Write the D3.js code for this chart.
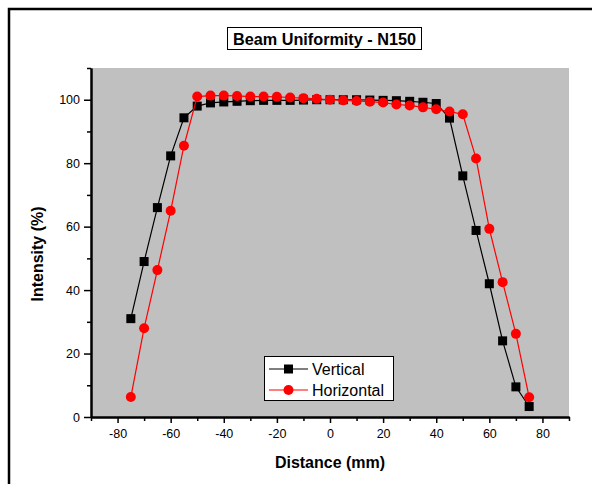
<!DOCTYPE html>
<html><head><meta charset="utf-8">
<script src="https://cdn.jsdelivr.net/npm/d3@7"></script>
<style>
html,body{margin:0;padding:0;background:#fff;}
svg{display:block;font-family:Arial,"Liberation Sans",sans-serif;}
</style></head>
<body>
<svg id="chart" width="592" height="484"></svg>
<script>
const distances = [-75,-70,-65,-60,-55,-50,-45,-40,-35,-30,-25,-20,-15,-10,-5,0,5,10,15,20,25,30,35,40,45,50,55,60,65,70,75];
const verticalValues = [31,49,66,82.3,94.3,98,99,99.3,99.5,99.7,99.8,99.8,99.8,99.9,100,100,100,100,99.9,99.8,99.7,99.5,99.2,98.8,94.2,76,58.8,42,24,9.5,3.3];
const horizontalValues = [6.3,28,46.3,65,85.5,101,101.3,101.3,101.2,101,101,100.9,100.7,100.5,100.3,100,99.8,99.6,99.4,99.1,98.5,98.2,97.6,97,96.3,95.4,81.5,59.3,42.5,26.2,6.2];
const seriesNames = ["Vertical","Horizontal"];
const xTickValues = [-80,-60,-40,-20,0,20,40,60,80];
const xMinorTicks = [-90,-70,-50,-30,-10,10,30,50,70,90];
const yTickValues = [0,20,40,60,80,100];
const yMinorTicks = [10,30,50,70,90,110];
const titleText = "Beam Uniformity - N150";
const xLabel = "Distance (mm)";
const yLabel = "Intensity (%)";

const svg = d3.select("#chart");
const pLeft = 91, pRight = 569, pTop = 68, pBottom = 417;
const x = d3.scaleLinear().domain([-90,90]).range([pLeft,pRight]);
const y = d3.scaleLinear().domain([0,110]).range([pBottom,pTop]);
const fmt = d => String(d);

// outer frame
svg.append("rect").attr("x",9).attr("y",9).attr("width",700).attr("height",600)
  .attr("fill","none").attr("stroke","#000").attr("stroke-width",2.5);

// plot background
svg.append("rect").attr("x",pLeft).attr("y",pTop).attr("width",pRight-pLeft).attr("height",pBottom-pTop)
  .attr("fill","#c0c0c0");

// title
const tg = svg.append("g");
tg.append("rect").attr("x",227.5).attr("y",27.5).attr("width",194).attr("height",22)
  .attr("fill","#fff").attr("stroke","#000").attr("stroke-width",1);
tg.append("text").attr("x",324.5).attr("y",44.5).attr("text-anchor","middle")
  .attr("font-size",16).attr("font-weight","bold").attr("textLength",183).attr("lengthAdjust","spacingAndGlyphs").text(titleText);

// axes
const xAxis = d3.axisBottom(x).tickValues(xTickValues).tickSize(6).tickSizeOuter(0).tickFormat(fmt);
const xAxisMinor = d3.axisBottom(x).tickValues(xMinorTicks).tickSize(4).tickSizeOuter(0).tickFormat("");
const yAxis = d3.axisLeft(y).tickValues(yTickValues).tickSize(7).tickSizeOuter(0).tickFormat(fmt);
const yAxisMinor = d3.axisLeft(y).tickValues(yMinorTicks).tickSize(4).tickSizeOuter(0).tickFormat("");

function styleAxis(g){
  g.select(".domain").attr("stroke","#000").attr("stroke-width",2);
  g.selectAll(".tick line").attr("stroke","#000").attr("stroke-width",1.5);
  g.selectAll(".tick text").attr("fill","#000").attr("font-size",12.5).attr("font-family","Arial,'Liberation Sans',sans-serif");
}
svg.append("g").attr("transform",`translate(0,${pBottom})`).call(xAxisMinor).call(styleAxis);
svg.append("g").attr("transform",`translate(0,${pBottom})`).call(xAxis).call(styleAxis)
  .selectAll(".tick text").attr("dy","0.71em").attr("y",12);
svg.append("g").attr("transform",`translate(${pLeft},0)`).call(yAxisMinor).call(styleAxis);
svg.append("g").attr("transform",`translate(${pLeft},0)`).call(yAxis).call(styleAxis)
  .selectAll(".tick text").attr("x",-11);

// axis labels
svg.append("text").attr("x",330).attr("y",468).attr("text-anchor","middle")
  .attr("font-size",16).attr("font-weight","bold").text(xLabel);
svg.append("text").attr("transform","translate(43,254) rotate(-90)").attr("text-anchor","middle")
  .attr("font-size",16).attr("font-weight","bold").text(yLabel);

// series
const line = d3.line().x(d=>x(d[0])).y(d=>y(d[1]));
const vData = distances.map((d,i)=>[d,verticalValues[i]]);
const hData = distances.map((d,i)=>[d,horizontalValues[i]]);

function drawSeries(data,color,shape){
  svg.append("path").datum(data).attr("d",line).attr("fill","none").attr("stroke",color).attr("stroke-width",1.2);
  if(shape==="square"){
    svg.append("g").selectAll("rect").data(data).join("rect")
      .attr("x",d=>x(d[0])-4.5).attr("y",d=>y(d[1])-4.5).attr("width",9).attr("height",9).attr("fill",color);
  } else {
    svg.append("g").selectAll("circle").data(data).join("circle")
      .attr("cx",d=>x(d[0])).attr("cy",d=>y(d[1])).attr("r",5).attr("fill",color);
  }
}
drawSeries(vData,"#000","square");
drawSeries(hData,"#ff0000","circle");

// legend
const lg = svg.append("g");
lg.append("rect").attr("x",264.5).attr("y",356.5).attr("width",129).attr("height",44)
  .attr("fill","#fff").attr("stroke","#000").attr("stroke-width",1);
const legendItems = [{name:seriesNames[0],color:"#000",shape:"square",cy:369},{name:seriesNames[1],color:"#ff0000",shape:"circle",cy:390}];
legendItems.forEach(it=>{
  lg.append("line").attr("x1",269).attr("x2",308).attr("y1",it.cy).attr("y2",it.cy).attr("stroke",it.color).attr("stroke-width",1.2);
  if(it.shape==="square") lg.append("rect").attr("x",284).attr("y",it.cy-4.5).attr("width",9).attr("height",9).attr("fill",it.color);
  else lg.append("circle").attr("cx",288.5).attr("cy",it.cy).attr("r",5).attr("fill",it.color);
  lg.append("text").attr("x",312).attr("y",it.cy+6).attr("font-size",16).text(it.name);
});
</script>
</body></html>
